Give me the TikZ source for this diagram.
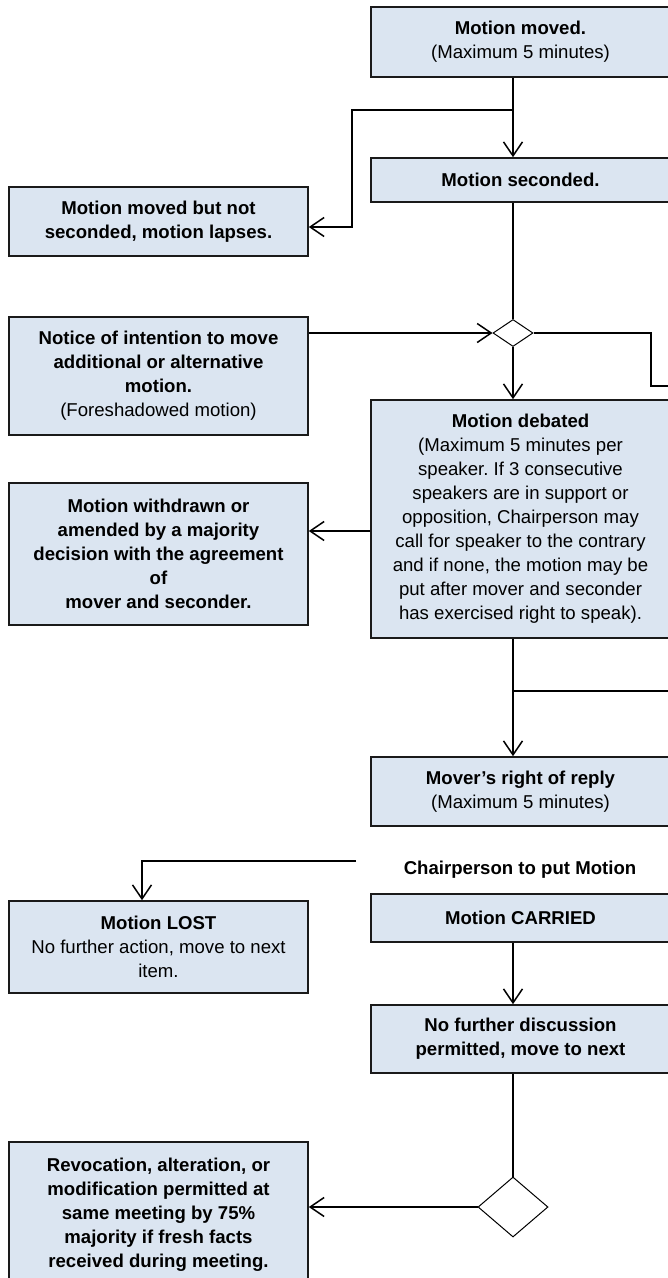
\documentclass[tikz,border=0pt]{standalone}
\usepackage{fontspec}
\setmainfont{Liberation Sans}
\usetikzlibrary{arrows.meta,shapes.geometric}
\definecolor{boxfill}{HTML}{DBE5F1}
\definecolor{boxline}{HTML}{1A1A1A}
\frenchspacing
\begin{document}
\begin{tikzpicture}[x=1pt,y=-1pt,
  box/.style={draw=boxline, line width=1.6pt, fill=boxfill, align=center, inner sep=0pt,
              minimum width=299pt, font=\fontsize{18.6}{24}\selectfont\bfseries},
  conn/.style={line width=1.5pt, draw=black},
  arr/.style={conn, -{Straight Barb[length=14pt,width=19pt,line width=1.5pt]}},
  dia/.style={diamond, draw=black, fill=white, line width=1pt, inner sep=0pt},
  lbl/.style={font=\fontsize{18.6}{24}\selectfont\bfseries, inner sep=0pt}
]
\useasboundingbox (0,0) rectangle (668,1278);

% right column boxes
\node[box, minimum height=70pt] (moved) at (520.5,42)
  {Motion moved.\\\mdseries(Maximum 5 minutes)};
\node[box, minimum height=44pt] (seconded) at (520.5,180) {Motion seconded.};
\node[box, minimum height=238pt] (debated) at (520.5,519)
  {Motion debated\\\mdseries(Maximum 5 minutes per\\\mdseries speaker. If 3 consecutive\\\mdseries speakers are in support or\\\mdseries opposition, Chairperson may\\\mdseries call for speaker to the contrary\\\mdseries and if none, the motion may be\\\mdseries put after mover and seconder\\\mdseries has exercised right to speak).};
\node[box, minimum height=69pt] (mover) at (520.5,791.5)
  {Mover’s right of reply\\\mdseries(Maximum 5 minutes)};
\node[lbl] (chair) at (520,870) {Chairperson to put Motion};
\node[box, minimum height=48pt] (carried) at (520.5,918) {Motion CARRIED};
\node[box, minimum height=68pt] (nofurther) at (520.5,1039)
  {No further discussion\\permitted, move to next};

% left column boxes
\node[box, minimum height=69pt] (notsec) at (158.5,221.5)
  {Motion moved but not\\seconded, motion lapses.};
\node[box, minimum height=118pt] (notice) at (158.5,376)
  {Notice of intention to move\\additional or alternative\\motion.\\\mdseries(Foreshadowed motion)};
\node[box, minimum height=142pt] (withdrawn) at (158.5,554)
  {Motion withdrawn or\\amended by a majority\\decision with the agreement\\of\\mover and seconder.};
\node[box, minimum height=92pt] (lost) at (158.5,947)
  {Motion LOST\\\mdseries No further action, move to next\\\mdseries item.};
\node[box, minimum height=146pt] (revoc) at (158.5,1215)
  {Revocation, alteration, or\\modification permitted at\\same meeting by 75\%\\majority if fresh facts\\received during meeting.};

% decision diamonds
\node[dia, minimum width=40pt, minimum height=27pt] (d1) at (513,333) {};
\node[dia, minimum width=70pt, minimum height=60pt] (d2) at (513,1207) {};

% helper coordinates
\coordinate (spine) at (513,0);
\coordinate (b1) at (513,110);
\coordinate (k1) at (352,110);
\coordinate (k2) at (352,227);
\coordinate (r1) at (651,333);
\coordinate (r2) at (651,386);
\coordinate (r3) at (672,386);
\coordinate (b2) at (513,691);
\coordinate (r4) at (672,691);
\coordinate (c1) at (356,861);
\coordinate (c2) at (142,861);

% connectors
\draw[arr] (moved.south -| spine) -- (seconded.north -| spine);
\draw[arr] (b1) -- (k1) -- (k2) -- (k2 -| notsec.east);
\draw[conn] (seconded.south -| spine) -- (d1.north);
\draw[arr] (notice.east |- d1) -- (d1.west);
\draw[conn] (d1.east) -- (r1) -- (r2) -- (r3);
\draw[arr] (d1.south) -- (debated.north -| spine);
\draw[arr] ([yshift=-12pt]debated.west) -- ([yshift=-12pt]debated.west -| withdrawn.east);
\draw[arr] (debated.south -| spine) -- (mover.north -| spine);
\draw[conn] (b2) -- (r4);
\draw[arr] (c1) -- (c2) -- (c2 |- lost.north);
\draw[arr] (carried.south -| spine) -- (nofurther.north -| spine);
\draw[conn] (nofurther.south -| spine) -- (d2.north);
\draw[arr] (d2.west) -- (d2.west -| revoc.east);
\end{tikzpicture}
\end{document}
